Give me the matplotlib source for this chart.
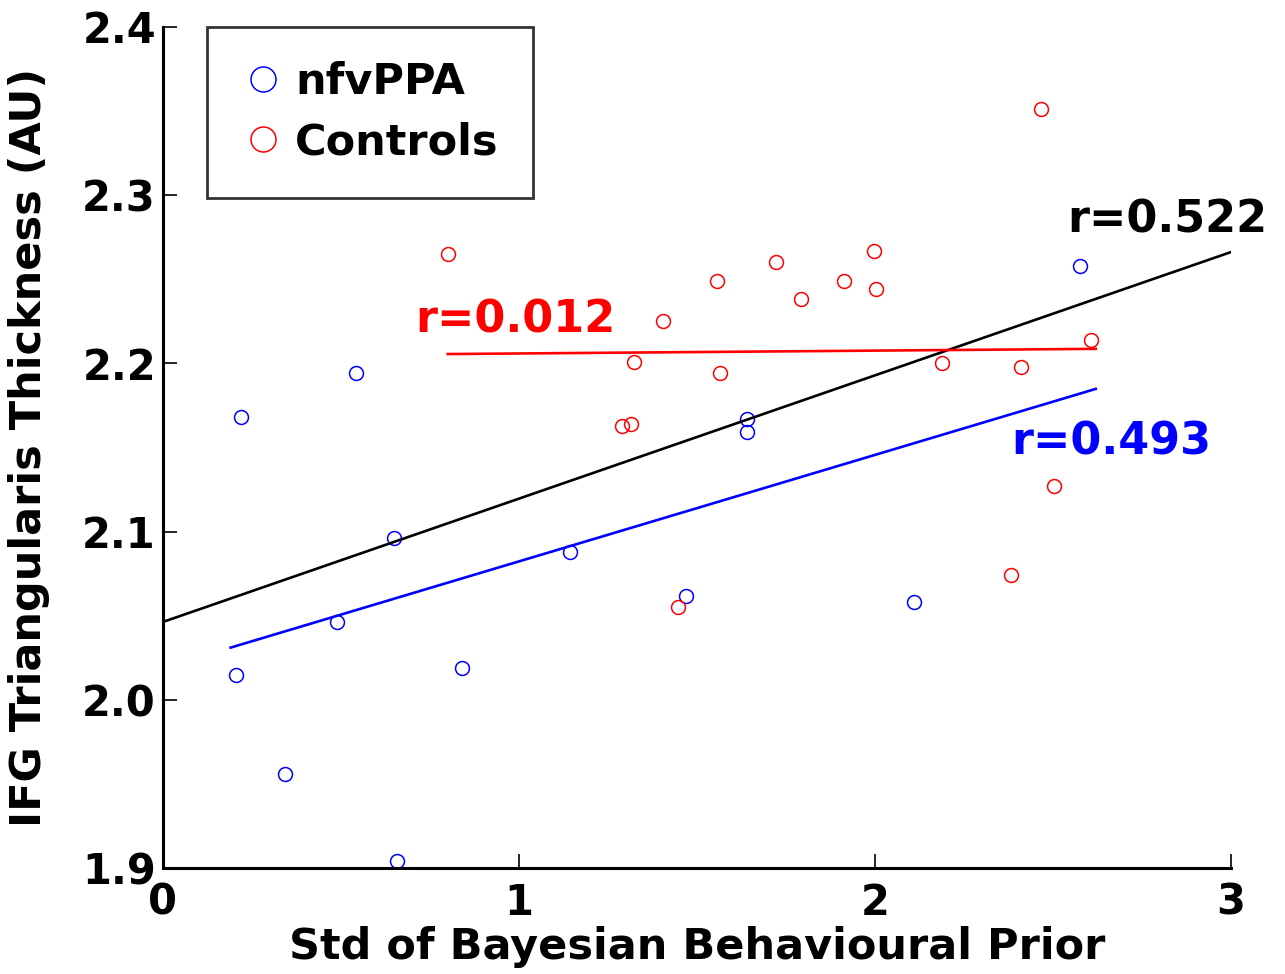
import numpy as np
import matplotlib
matplotlib.use("Agg")
import matplotlib.pyplot as plt

# nfvPPA group
nfv_x = [0.205, 0.219, 0.343, 0.489, 0.542, 0.649, 0.657, 0.840, 1.143, 1.469, 1.640, 1.640, 2.110, 2.576]
nfv_y = [2.015, 2.168, 1.956, 2.046, 2.194, 2.096, 1.904, 2.019, 2.088, 2.062, 2.167, 2.159, 2.058, 2.258]

# control group
ctl_x = [0.801, 1.289, 1.315, 1.323, 1.404, 1.447, 1.556, 1.565, 1.722, 1.792,
         1.913, 1.997, 2.003, 2.188, 2.382, 2.410, 2.466, 2.503, 2.607]
ctl_y = [2.265, 2.163, 2.164, 2.201, 2.225, 2.055, 2.249, 2.194, 2.260, 2.238,
         2.249, 2.267, 2.244, 2.200, 2.074, 2.198, 2.351, 2.127, 2.214]

# fit lines: (slope, intercept, x start, x end)
fit_all = (0.0733, 2.0463, 0.0, 3.0)
fit_nfv = (0.0633, 2.019, 0.19, 2.62)
fit_ctl = (0.0017, 2.2042, 0.80, 2.62)

r_labels = {"all": "r=0.522", "nfv": "r=0.493", "ctl": "r=0.012"}

plt.rcParams['font.family'] = 'DejaVu Sans'
plt.rcParams['font.weight'] = 'bold'

fig = plt.figure(figsize=(12.85, 9.74), dpi=100)
ax = fig.add_axes([0.1268, 0.1088, 0.8312, 0.8635])

ax.plot(nfv_x, nfv_y, 'o', mfc='none', mec='#0000ff', ms=10, mew=1.1, label='nfvPPA', clip_on=False)
ax.plot(ctl_x, ctl_y, 'o', mfc='none', mec='#ff0000', ms=10, mew=1.1, label='Controls', clip_on=False)

def draw_fit(fit, color):
    m, b, x0, x1 = fit
    xs = np.array([x0, x1])
    ax.plot(xs, m * xs + b, color=color, lw=1.9)

draw_fit(fit_all, 'black')
draw_fit(fit_nfv, '#0000ff')
draw_fit(fit_ctl, '#ff0000')

ax.text(0.71, 2.226, r_labels["ctl"], color='#ff0000', fontsize=32, fontweight='bold', va='center', ha='left')
ax.text(2.54, 2.285, r_labels["all"], color='black', fontsize=32, fontweight='bold', va='center', ha='left')
ax.text(2.383, 2.153, r_labels["nfv"], color='#0000ff', fontsize=32, fontweight='bold', va='center', ha='left')

ax.set_xlim(0, 3)
ax.set_ylim(1.9, 2.4)
ax.set_xticks([0, 1, 2, 3])
ax.set_yticks([1.9, 2.0, 2.1, 2.2, 2.3, 2.4])
ax.set_yticklabels(['1.9', '2.0', '2.1', '2.2', '2.3', '2.4'])

for s in ['top', 'right']:
    ax.spines[s].set_visible(False)
for s in ['left', 'bottom']:
    ax.spines[s].set_linewidth(2.2)

ax.tick_params(direction='in', length=10, width=1.2, labelsize=30)
ax.tick_params(axis='x', pad=10)
ax.tick_params(axis='y', pad=5)
for lab in ax.get_xticklabels() + ax.get_yticklabels():
    lab.set_fontweight('bold')

ax.set_xlabel('Std of Bayesian Behavioural Prior', fontsize=31, fontweight='bold')
ax.set_ylabel('IFG Triangularis Thickness (AU)', fontsize=31, fontweight='bold')
ax.xaxis.set_label_coords(0.5, -0.069)
ax.yaxis.set_label_coords(-0.106, 0.5)

leg = ax.legend(loc='upper left', bbox_to_anchor=(0.041, 1.0), fontsize=31, markerscale=1.8,
                frameon=True, fancybox=False, edgecolor='black', handletextpad=0.25,
                borderpad=0.8, labelspacing=0.42, handlelength=1.0, borderaxespad=0)
leg.get_frame().set_linewidth(2.0)
for t in leg.get_texts():
    t.set_fontweight('bold')

fig.savefig('out.png', dpi=100)
